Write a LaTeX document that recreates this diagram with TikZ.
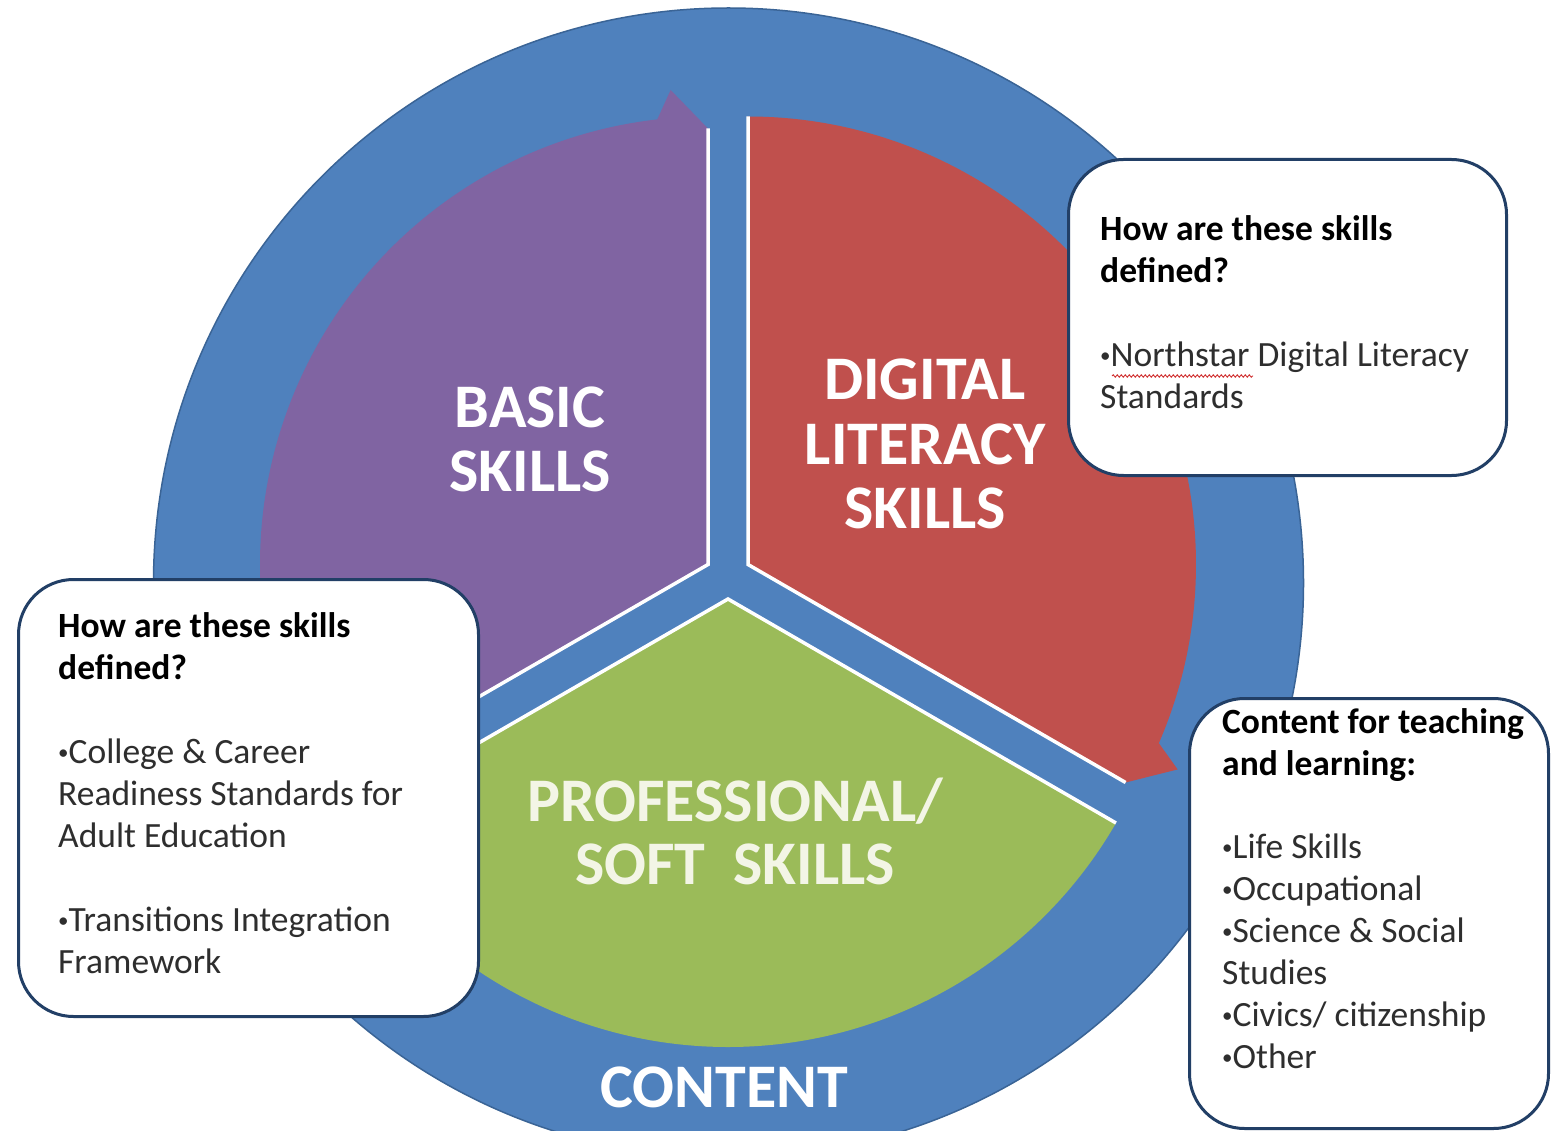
\documentclass[tikz,border=0pt]{standalone}
\usepackage{fontspec}
\setmainfont{Carlito}
\usetikzlibrary{calc,decorations.pathmorphing}

\definecolor{ringblue}{HTML}{4F81BD}
\definecolor{ringedge}{HTML}{3A6496}
\definecolor{basicpurple}{HTML}{8064A2}
\definecolor{digitalred}{HTML}{C0504D}
\definecolor{softgreen}{HTML}{9BBB59}
\definecolor{boxedge}{HTML}{223F66}
\definecolor{bodytext}{HTML}{2E2E2E}
\definecolor{softlabel}{HTML}{F3F5E6}
\definecolor{spellred}{HTML}{D03030}

\tikzset{
  biglabel/.style={font=\fontsize{62}{64}\selectfont\bfseries, text=white, inner sep=0pt, anchor=base},
  notebox/.style={draw=boxedge, line width=3pt, fill=white, rounded corners=55pt, anchor=north west, inner sep=0pt},
  notetext/.style={font=\fontsize{35.5}{42}\selectfont, text=bodytext, align=left, anchor=north west, inner sep=0pt},
  seamline/.style={white, line width=3.5pt, line join=miter},
}
\newcommand{\hd}[1]{{\color{black}\bfseries #1}}
\newcommand{\bul}{{\fontsize{21}{21}\selectfont\raisebox{3.5pt}{•}}}

\begin{document}
\begin{tikzpicture}[x=1pt, y=1pt]
  \useasboundingbox (0,0) rectangle (1552,-1131);
  \clip (0,0) rectangle (1552,-1131);

  % outer content ring
  \fill[white] (0,0) rectangle (1552,-1131);
  \draw[fill=ringblue, draw=ringedge, line width=1.5pt] (728.5,-583) circle (575);

  % apexes of the three segments
  \coordinate (Ap) at (708,-564.5);
  \coordinate (Ar) at (748,-564.5);
  \coordinate (Ag) at (728,-599);

  % segments as circular arrows (clockwise)
  \fill[basicpurple] (Ap) -- ++(210:448) arc[start angle=210, end angle=96.5, radius=448]
    -- ($(Ap)+(94.5:476)$) -- ($(Ap)+(90:436)$) -- cycle;
  \fill[digitalred] (Ar) -- ++(90:448) arc[start angle=90, end angle=-23.5, radius=448]
    -- ($(Ar)+(-25.5:476)$) -- ($(Ar)+(-30:436)$) -- cycle;
  \fill[softgreen] (Ag) -- ++(-30:448) arc[start angle=-30, end angle=-143.5, radius=448]
    -- ($(Ag)+(-145.5:476)$) -- ($(Ag)+(-150:436)$) -- cycle;

  % white seams along the straight edges
  \draw[seamline] ($(Ap)+(210:448)$) -- (Ap) -- ($(Ap)+(90:436)$);
  \draw[seamline] ($(Ar)+(90:448)$) -- (Ar) -- ($(Ar)+(-30:436)$);
  \draw[seamline] ($(Ag)+(-30:448)$) -- (Ag) -- ($(Ag)+(-150:436)$);

  % segment labels
  \node[biglabel] (basicA) at (530,-427) {BASIC};
  \node[biglabel] (basicB) at (530,-491) {SKILLS};
  \node[biglabel] (digA) at (925,-399) {DIGITAL};
  \node[biglabel] (digB) at (925,-464) {LITERACY};
  \node[biglabel] (digC) at (925,-528) {SKILLS};
  \node[biglabel, text=softlabel] (softA) at (735,-821) {PROFESSIONAL/};
  \node[biglabel, text=softlabel] (softB) at (735,-884) {SOFT\ \ SKILLS};
  \node[biglabel] (content) at (724,-1107) {CONTENT};

  % note boxes
  \node[notebox, minimum width=438pt, minimum height=316pt] (dlbox) at (1067,-158) {};
  \node[notebox, minimum width=460pt, minimum height=437pt] (basicbox) at (17,-578) {};
  \node[notebox, minimum width=359pt, minimum height=430pt] (contentbox) at (1188,-697) {};

  \node[notetext] (dltext) at (1100,-210.6)
    {\strut\hd{How are these skills}\\ \hd{defined?}\\[42pt]
     \bul Northstar Digital Literacy\\ Standards};
  \draw[spellred, line width=0.9pt, decorate, decoration={snake, amplitude=1.2pt, segment length=4pt}]
    (1112,-376) -- (1253,-376);

  \node[notetext] (basictext) at (58,-607.6)
    {\strut\hd{How are these skills}\\ \hd{defined?}\\[42pt]
     \bul College \& Career\\ Readiness Standards for\\ Adult Education\\[42pt]
     \bul Transitions Integration\\ Framework};

  \node[notetext] (contenttext) at (1222,-703.6)
    {\strut\hd{Content for teaching}\\ \hd{and learning:}\\[41pt]
     \bul Life Skills\\ \bul Occupational\\ \bul Science \& Social\\ Studies\\
     \bul Civics/ citizenship\\ \bul Other};
\end{tikzpicture}
\end{document}
